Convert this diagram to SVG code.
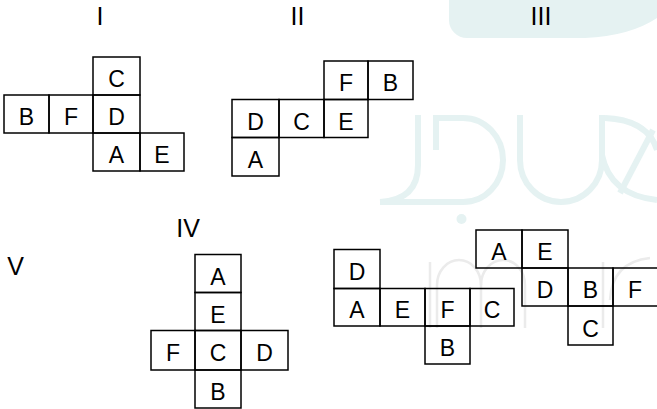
<svg xmlns="http://www.w3.org/2000/svg" width="657" height="409" viewBox="0 0 657 409">
<style>
.cell{fill:none;stroke:#000;stroke-width:1.5}
.lt{font-family:"Liberation Sans",Arial,sans-serif;font-size:23px;fill:#000;text-anchor:middle}
.rn{font-family:"Liberation Sans",Arial,sans-serif;font-size:25px;fill:#000;text-anchor:middle}
.wm{fill:none;stroke:#e5f2f2;stroke-width:6}
.wg{fill:none;stroke:#ebebeb;stroke-width:2.5}
</style>
<rect width="657" height="409" fill="#fff"/>
<g id="watermark">
<path d="M449 0 V20 A18 18 0 0 0 467 38 H585 Q630 36 657 18 V0 Z" fill="#e5f2f2"/>
<path class="wm" d="M418 115 V165 Q418 200 380 202"/>
<path class="wm" d="M436 150 V118 H463 A40 42 0 0 1 463 202 H380"/>
<path class="wm" d="M520 115 V160 A41 42 0 0 0 602 160 V115"/>
<path class="wm" d="M602 115 V155 Q610 195 657 200"/>
<path class="wm" d="M605 118 Q648 120 657 150"/>
<path class="wm" d="M653 130 L620 193"/>
<circle cx="461.5" cy="219" r="5" fill="#e5f2f2"/>
<path class="wg" d="M430 262 V328"/>
<path class="wg" d="M437 328 V285 A22 25 0 0 1 481 285 V328"/>
<path class="wg" d="M481 285 A22 25 0 0 1 525 285 V328"/>
<path class="wg" d="M603 262 V328"/>
<path class="wg" d="M610 300 Q612 262 650 258"/>
</g>
<g id="labels">
<text class="rn" x="100" y="24.5">I</text>
<text class="rn" x="297.5" y="24.5">II</text>
<text class="rn" x="541" y="24.5">III</text>
<text class="rn" x="188" y="237">IV</text>
<text class="rn" x="15.5" y="275">V</text>
</g>
<g id="net-I">
<rect class="cell" x="93" y="57" width="47" height="38"/><text class="lt" x="116.5" y="87">C</text>
<rect class="cell" x="4" y="95" width="45" height="38"/><text class="lt" x="26.5" y="125">B</text>
<rect class="cell" x="49" y="95" width="44" height="38"/><text class="lt" x="71" y="125">F</text>
<rect class="cell" x="93" y="95" width="47" height="38"/><text class="lt" x="116.5" y="125">D</text>
<rect class="cell" x="93" y="133" width="47" height="38"/><text class="lt" x="116.5" y="163">A</text>
<rect class="cell" x="140" y="133" width="44" height="38"/><text class="lt" x="162" y="163">E</text>
</g>
<g id="net-II">
<rect class="cell" x="324" y="61" width="44" height="38.5"/><text class="lt" x="346" y="91">F</text>
<rect class="cell" x="368" y="61" width="45" height="38.5"/><text class="lt" x="390.5" y="91">B</text>
<rect class="cell" x="232" y="99.5" width="47" height="38"/><text class="lt" x="255.5" y="129.5">D</text>
<rect class="cell" x="279" y="99.5" width="45" height="38"/><text class="lt" x="301.5" y="129.5">C</text>
<rect class="cell" x="324" y="99.5" width="44" height="38"/><text class="lt" x="346" y="129.5">E</text>
<rect class="cell" x="232" y="137.5" width="47" height="38.5"/><text class="lt" x="255.5" y="167.5">A</text>
</g>
<g id="net-IV">
<rect class="cell" x="195" y="254.5" width="46" height="38"/><text class="lt" x="218" y="284.5">A</text>
<rect class="cell" x="195" y="292.5" width="46" height="38"/><text class="lt" x="218" y="322.5">E</text>
<rect class="cell" x="151" y="330.5" width="44" height="39.5"/><text class="lt" x="173" y="361">F</text>
<rect class="cell" x="195" y="330.5" width="46" height="39.5"/><text class="lt" x="218" y="361">C</text>
<rect class="cell" x="241" y="330.5" width="47" height="39.5"/><text class="lt" x="264.5" y="361">D</text>
<rect class="cell" x="195" y="370" width="46" height="38"/><text class="lt" x="218" y="400">B</text>
</g>
<g id="net-V">
<rect class="cell" x="334" y="249.5" width="46" height="39"/><text class="lt" x="357" y="279.5">D</text>
<rect class="cell" x="334" y="288.5" width="46" height="37.5"/><text class="lt" x="357" y="318">A</text>
<rect class="cell" x="380" y="288.5" width="45" height="37.5"/><text class="lt" x="402.5" y="318">E</text>
<rect class="cell" x="425" y="288.5" width="45" height="37.5"/><text class="lt" x="447.5" y="318">F</text>
<rect class="cell" x="470" y="288.5" width="44" height="37.5"/><text class="lt" x="492" y="318">C</text>
<rect class="cell" x="425" y="326" width="45" height="38"/><text class="lt" x="447.5" y="356">B</text>
</g>
<g id="net-III">
<rect class="cell" x="476" y="230" width="46" height="38"/><text class="lt" x="499" y="260">A</text>
<rect class="cell" x="522" y="230" width="46" height="38"/><text class="lt" x="545" y="260">E</text>
<rect class="cell" x="522" y="268" width="46" height="38"/><text class="lt" x="545" y="298">D</text>
<rect class="cell" x="568" y="268" width="45" height="38"/><text class="lt" x="590.5" y="298">B</text>
<rect class="cell" x="613" y="268" width="50" height="38"/><text class="lt" x="635" y="298">F</text>
<rect class="cell" x="568" y="306" width="45" height="39"/><text class="lt" x="590.5" y="336.5">C</text>
</g>
</svg>
